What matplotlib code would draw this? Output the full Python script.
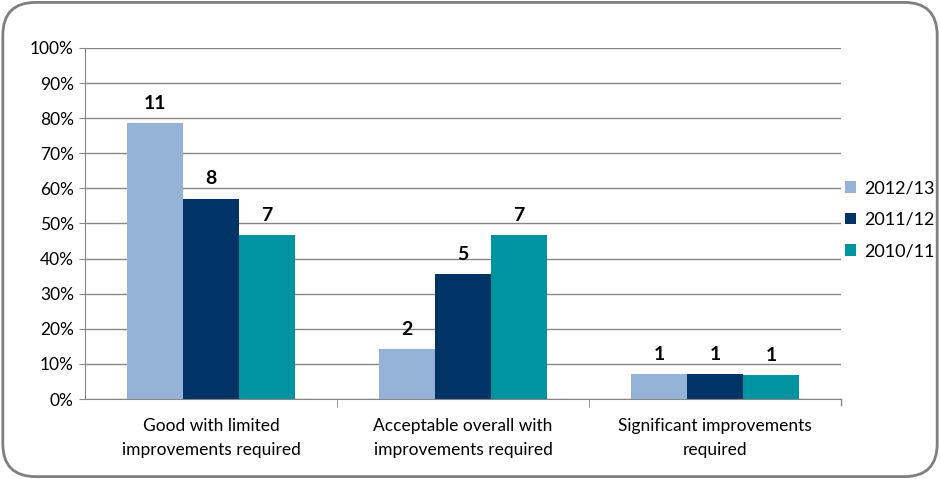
import numpy as np
import matplotlib.pyplot as plt
from matplotlib.patches import FancyBboxPatch, Patch
from matplotlib.ticker import PercentFormatter

plt.rcParams['font.family'] = ['Lato', 'DejaVu Sans']

# data
categories = ['Good with limited\nimprovements required',
              'Acceptable overall with\nimprovements required',
              'Significant improvements\nrequired']
years = ['2012/13', '2011/12', '2010/11']
pct_2012 = [78.6, 14.3, 7.1]
pct_2011 = [57.1, 35.7, 7.1]
pct_2010 = [46.7, 46.7, 6.7]
cnt_2012 = [11, 2, 1]
cnt_2011 = [8, 5, 1]
cnt_2010 = [7, 7, 1]

colors = ['#95B3D7', '#003366', '#0094A0']

fig = plt.figure(figsize=(9.4, 4.79), dpi=100)
ax = fig.add_axes([0.0904, 0.167, 0.8043, 0.733])

# rounded outer border
border = FancyBboxPatch((0.003, 0.005), 0.994, 0.99,
                        boxstyle="round,pad=0,rounding_size=0.035",
                        transform=fig.transFigure, facecolor='none',
                        edgecolor='#7F7F7F', linewidth=2, mutation_aspect=940/479)
fig.patches.append(border)

x = np.arange(len(categories))
w = 0.222
series = [(pct_2012, cnt_2012), (pct_2011, cnt_2011), (pct_2010, cnt_2010)]
for i, (vals, cnts) in enumerate(series):
    bars = ax.bar(x + (i - 1) * w, vals, w, color=colors[i], zorder=3)
    for b, c in zip(bars, cnts):
        ax.annotate(str(c), (b.get_x() + b.get_width() / 2, b.get_height()),
                    xytext=(0, 8), textcoords='offset points',
                    ha='center', va='bottom', fontsize=14, fontweight='bold')

ax.set_xlim(-0.5, 2.5)
ax.set_ylim(0, 100)
ax.set_yticks(np.arange(0, 101, 10))
ax.yaxis.set_major_formatter(PercentFormatter(decimals=0))
ax.grid(axis='y', color='#868686', linewidth=1, zorder=0)

ax.set_xticks(x)
ax.set_xticklabels(categories, fontsize=12.5, linespacing=1.55)
ax.tick_params(axis='x', length=0, pad=14)
ax.set_xticks([0.5, 1.5], minor=True)
ax.tick_params(axis='x', which='minor', length=6, color='#868686')
ax.tick_params(axis='y', length=4, color='#868686', labelsize=12.5, pad=4)

for s in ['top', 'right']:
    ax.spines[s].set_visible(False)
for s in ['left', 'bottom']:
    ax.spines[s].set_color('#868686')

# tick mark at right end of the category axis
ax.plot([2.5, 2.5], [0, -1.7], color='#868686', lw=1, clip_on=False)

handles = [Patch(facecolor=c, edgecolor='none') for c in colors]
ax.legend(handles, years, loc='center left', bbox_to_anchor=(0.996, 0.51),
          frameon=False, fontsize=13, handlelength=0.6, handleheight=0.6,
          handletextpad=0.45, labelspacing=0.85, borderaxespad=0)

fig.savefig('out.png', dpi=100)
